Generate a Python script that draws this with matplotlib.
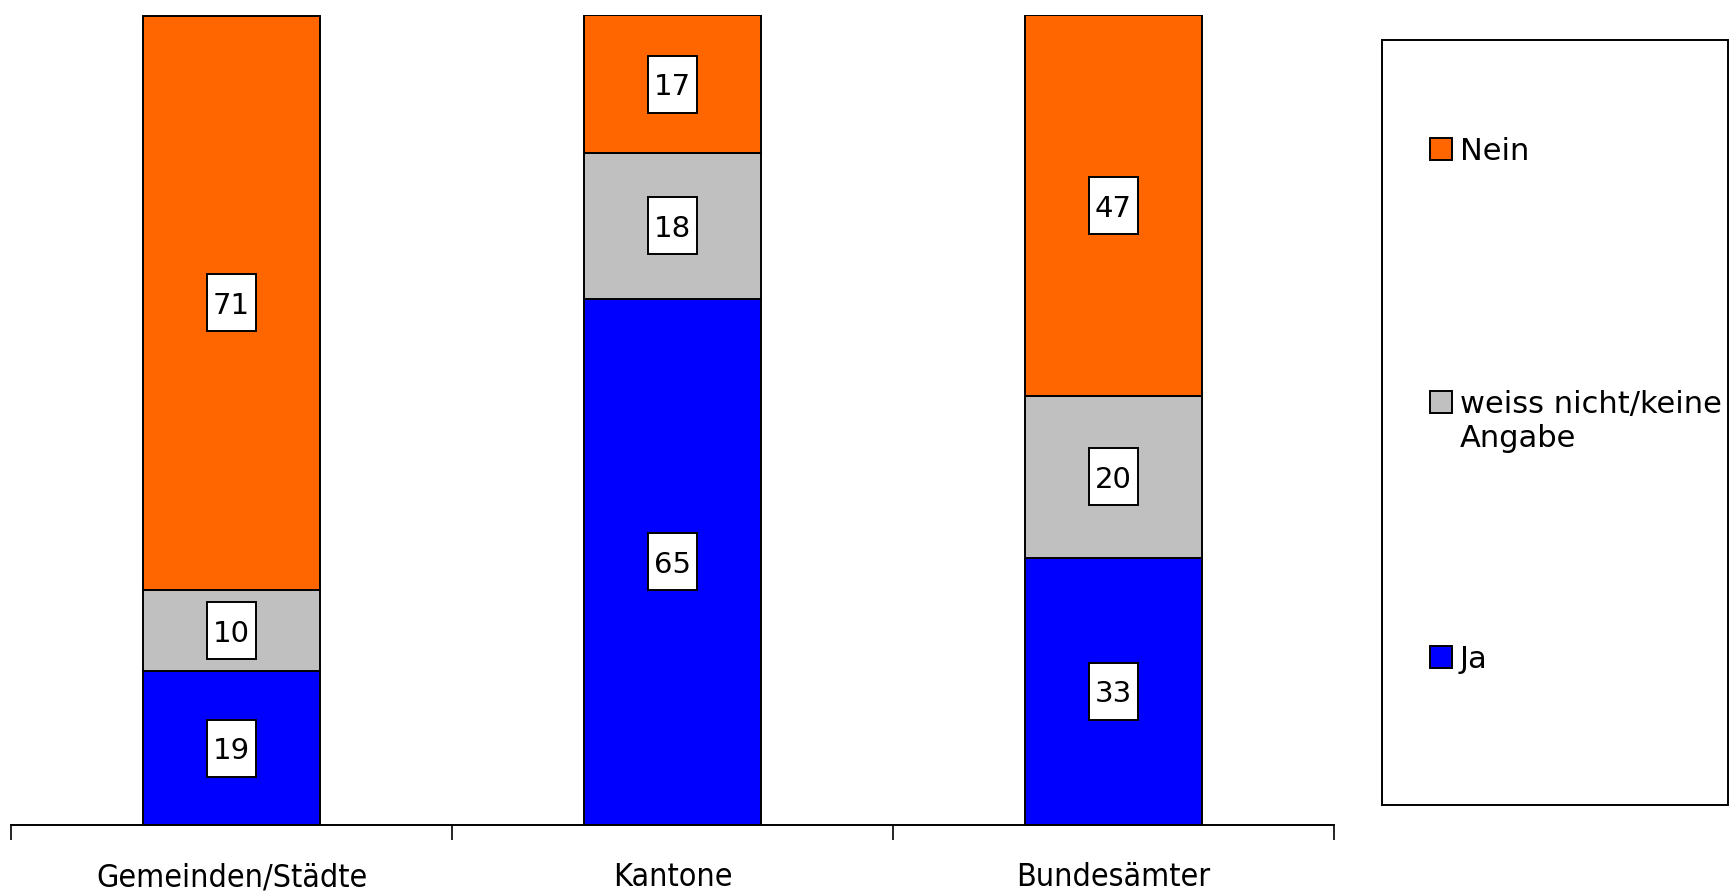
import matplotlib.pyplot as plt
import matplotlib.patches as mpatches
import matplotlib.transforms as mtransforms

# data
categories = ['Gemeinden/Städte', 'Kantone', 'Bundesämter']
series_names = ['Ja', 'weiss nicht/keine\nAngabe', 'Nein']
ja = [19, 65, 33]
weiss = [10, 18, 20]
nein = [71, 17, 47]
colors = ['#0000FF', '#C0C0C0', '#FF6600']

fig = plt.figure(figsize=(17.29, 8.92), dpi=100)
ax = fig.add_axes([11 / 1729, 67 / 892, 1323 / 1729, 809.5 / 892])

x = list(range(len(categories)))
bottom = [0] * len(categories)
for vals, col in zip([ja, weiss, nein], colors):
    ax.bar(x, vals, width=0.4, bottom=bottom, color=col,
           edgecolor='black', linewidth=1.4, zorder=2)
    for xi, v, b in zip(x, vals, bottom):
        # white label box, fixed size in points
        trans = (mtransforms.Affine2D().scale(1 / 72) + fig.dpi_scale_trans
                 + mtransforms.ScaledTranslation(xi, b + v / 2, ax.transData))
        ax.add_patch(mpatches.Rectangle((-17.3, -20.5), 34.6, 41, transform=trans,
                                        facecolor='white', edgecolor='black',
                                        linewidth=1.4, zorder=3))
        ax.text(xi, b + v / 2, str(v), ha='center', va='center_baseline',
                fontsize=21, zorder=4)
    bottom = [b + v for b, v in zip(bottom, vals)]

ax.set_xlim(-0.5, 2.5)
ax.set_ylim(0, 100)
for s in ['left', 'right', 'top']:
    ax.spines[s].set_visible(False)
ax.spines['bottom'].set_linewidth(1.4)
ax.set_yticks([])
ax.set_xticks(x)
ax.set_xticklabels(categories, fontsize=23, fontstretch='condensed')
ax.tick_params(axis='x', which='major', length=0, pad=27)
ax.set_xticks([-0.5, 0.5, 1.5, 2.5], minor=True)
ax.tick_params(axis='x', which='minor', length=11, width=1.2, direction='out')

# legend drawn by hand to match the spread-out layout
fig.patches.append(mpatches.Rectangle((1382 / 1729, 87 / 892), 346 / 1729, 765 / 892,
                                      transform=fig.transFigure, facecolor='none',
                                      edgecolor='black', linewidth=1.4))
legend_y = [657, 402, 149]
for name, col, yy in zip(series_names, colors, legend_y):
    fig.patches.append(mpatches.Rectangle((1430 / 1729, (892 - yy - 11) / 892),
                                          22 / 1729, 22 / 892,
                                          transform=fig.transFigure, facecolor=col,
                                          edgecolor='black', linewidth=1.4))
    fig.text(1460 / 1729, (892 - yy) / 892, name.split('\n')[0], ha='left',
             va='center_baseline', fontsize=22)
    for i, line in enumerate(name.split('\n')[1:], start=1):
        fig.text(1460 / 1729, (892 - yy - 34 * i) / 892, line, ha='left',
                 va='center_baseline', fontsize=22)

fig.savefig('out.png', dpi=100)
